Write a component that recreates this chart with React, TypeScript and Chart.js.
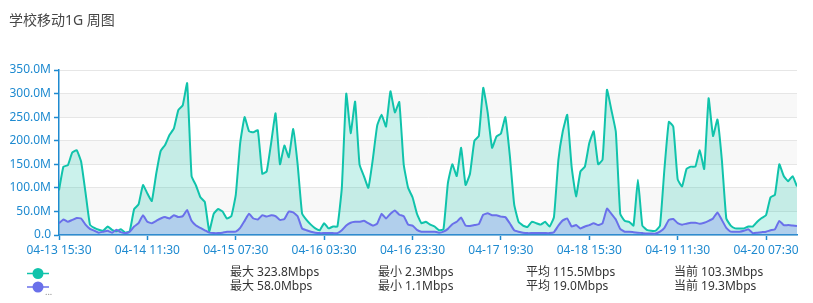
import React, { useEffect, useRef } from 'react';
import { Chart, registerables } from 'chart.js';

Chart.register(...registerables);

// Weekly traffic on the campus mobile 1G uplink, one sample per hour from 04-13 15:30.
const chartTitle = '学校移动1G 周图';

const SAMPLE_STEP_HOURS = 1;
const xTickStepHours = 20;
const xTickLabels = [
  '04-13 15:30', '04-14 11:30', '04-15 07:30', '04-16 03:30', '04-16 23:30',
  '04-17 19:30', '04-18 15:30', '04-19 11:30', '04-20 07:30',
];

// Inbound traffic, Mbps
const inboundMbps = [
  95, 145, 148, 175, 180, 156, 90, 22, 15, 11,
  9, 18, 11, 8, 12, 5, 8, 55, 65, 106,
  88, 72, 130, 178, 191, 212, 226, 265, 275, 322,
  125, 105, 80, 70, 8, 45, 55, 50, 35, 40,
  85, 195, 250, 220, 218, 222, 130, 135, 195, 258,
  150, 190, 165, 225, 150, 46, 32, 22, 14, 10,
  25, 14, 18, 18, 100, 300, 216, 283, 150, 125,
  100, 160, 232, 255, 230, 305, 260, 282, 150, 100,
  80, 45, 25, 28, 22, 18, 10, 12, 110, 150,
  125, 185, 106, 130, 200, 210, 312, 260, 185, 209,
  215, 250, 170, 65, 28, 20, 17, 28, 25, 22,
  28, 18, 38, 159, 220, 255, 145, 82, 135, 145,
  195, 220, 150, 160, 308, 265, 219, 45, 30, 28,
  20, 117, 20, 11, 9, 9, 20, 140, 240, 230,
  118, 103, 140, 145, 145, 180, 140, 290, 210, 245,
  159, 35, 20, 14, 14, 14, 18, 18, 28, 36,
  42, 80, 85, 150, 125, 114, 125, 103,
];

// Outbound traffic, Mbps
const outboundMbps = [
  25, 33, 28, 32, 36, 35, 22, 13, 9, 5,
  7, 9, 5, 11, 6, 4, 7, 18, 25, 42,
  28, 25, 30, 35, 38, 35, 42, 38, 40, 53,
  30, 20, 15, 10, 5, 4, 4, 5, 7, 7,
  7, 15, 30, 45, 35, 33, 42, 39, 42, 40,
  32, 34, 50, 48, 40, 14, 10, 7, 5, 4,
  4, 4, 4, 4, 10, 20, 26, 28, 28, 30,
  25, 20, 24, 45, 35, 45, 52, 43, 40, 22,
  20, 11, 7, 7, 7, 7, 5, 7, 13, 23,
  28, 37, 20, 19, 21, 23, 43, 46, 42, 42,
  39, 38, 25, 10, 7, 5, 4, 4, 4, 4,
  4, 4, 6, 20, 31, 35, 18, 21, 14, 18,
  21, 25, 21, 25, 56, 45, 33, 13, 7, 7,
  6, 5, 4, 3, 3, 3, 7, 15, 32, 34,
  25, 22, 24, 26, 26, 24, 26, 30, 35, 48,
  32, 15, 7, 7, 7, 9, 12, 4, 5, 6,
  7, 10, 12, 30, 21, 21, 20, 19,
];

const yTickStep = 50;
const yMax = 350;

const statNames = ['最大', '最小', '平均', '当前'];
const inboundStats = ['323.8', '2.3', '115.5', '103.3'];
const outboundStats = ['58.0', '1.1', '19.0', '19.3'];

const TEAL = '#10c3ab';
const PURPLE = '#6a70ea';
const AXIS_BLUE = '#1e8ad0';
const FONT_FAMILY = '"Noto Sans", "Noto Sans CJK SC", sans-serif';

const toPoints = (values: number[]) =>
  values.map((y, i) => ({ x: i * SAMPLE_STEP_HOURS, y }));

// Alternating light bands behind the plot
const bandsPlugin = {
  id: 'bands',
  beforeDraw(chart: any) {
    const { ctx, chartArea, scales } = chart;
    const y = scales.y;
    ctx.save();
    for (let v = 0; v < yMax; v += yTickStep) {
      const idx = v / yTickStep;
      if (idx % 2 === 1) {
        const top = y.getPixelForValue(v + yTickStep);
        const bottom = y.getPixelForValue(v);
        ctx.fillStyle = '#f8f8f8';
        ctx.fillRect(chartArea.left, top, chartArea.right - chartArea.left, bottom - top);
      }
    }
    ctx.restore();
  },
};

// Title above the plot and the legend with summary figures below it
const headerFooterPlugin = {
  id: 'headerFooter',
  afterDraw(chart: any) {
    const { ctx } = chart;
    ctx.save();
    ctx.textBaseline = 'middle';
    ctx.textAlign = 'left';

    ctx.font = `14px ${FONT_FAMILY}`;
    ctx.fillStyle = '#464646';
    ctx.fillText(chartTitle, 9, 21);

    const rows = [
      { color: TEAL, y: 273.5, stats: inboundStats },
      { color: PURPLE, y: 287, stats: outboundStats },
    ];
    const statX = [230, 378, 526, 674];
    rows.forEach((row) => {
      ctx.strokeStyle = row.color;
      ctx.lineWidth = 1.5;
      ctx.beginPath();
      ctx.moveTo(27, row.y);
      ctx.lineTo(49, row.y);
      ctx.stroke();
      ctx.fillStyle = row.color;
      ctx.beginPath();
      ctx.arc(38, row.y, 5.5, 0, Math.PI * 2);
      ctx.fill();

      ctx.font = `12px ${FONT_FAMILY}`;
      ctx.fillStyle = '#333333';
      row.stats.forEach((s, i) => {
        ctx.fillText(`${statNames[i]} ${s}Mbps`, statX[i], row.y - 0.5);
      });
    });

    ctx.font = `9px ${FONT_FAMILY}`;
    ctx.fillStyle = '#888888';
    ctx.fillText('...', 45, 292);
    ctx.restore();
  },
};

export default function App() {
  const canvasRef = useRef<HTMLCanvasElement | null>(null);

  useEffect(() => {
    const canvas = canvasRef.current;
    if (!canvas) return;
    Chart.defaults.font.family = FONT_FAMILY;

    const chart = new Chart(canvas, {
      type: 'line',
      data: {
        datasets: [
          {
            label: 'out',
            data: toPoints(outboundMbps),
            borderColor: PURPLE,
            backgroundColor: 'rgba(106,112,234,0.27)',
            fill: 'origin',
            borderWidth: 2,
            pointRadius: 0,
            tension: 0.12,
          },
          {
            label: 'in',
            data: toPoints(inboundMbps),
            borderColor: TEAL,
            backgroundColor: 'rgba(20,194,170,0.22)',
            fill: 'origin',
            borderWidth: 2,
            pointRadius: 0,
            tension: 0.12,
          },
        ],
      },
      options: {
        responsive: false,
        animation: false,
        layout: { padding: { top: 70, right: 16, left: 0, bottom: 0 } },
        plugins: {
          legend: { display: false },
          tooltip: { enabled: false },
          title: { display: false },
        },
        scales: {
          x: {
            type: 'linear',
            min: 0,
            max: (inboundMbps.length - 1) * SAMPLE_STEP_HOURS,
            border: { color: AXIS_BLUE, width: 1.5 },
            grid: {
              drawOnChartArea: false,
              drawTicks: true,
              tickLength: 5,
              tickColor: AXIS_BLUE,
              tickWidth: 1.5,
            },
            ticks: {
              stepSize: xTickStepHours,
              includeBounds: false,
              autoSkip: false,
              maxRotation: 0,
              color: AXIS_BLUE,
              font: { size: 12 },
              padding: 3,
              callback: (_v: any, i: number) => xTickLabels[i] ?? '',
            },
            afterFit: (s: any) => {
              s.height = 68;
            },
          },
          y: {
            min: 0,
            max: yMax,
            border: { color: AXIS_BLUE, width: 1.5 },
            grid: {
              color: '#e6e6e6',
              lineWidth: 1,
              tickColor: AXIS_BLUE,
              tickLength: 5,
              tickWidth: 1.5,
            },
            ticks: {
              stepSize: yTickStep,
              color: AXIS_BLUE,
              font: { size: 12 },
              padding: 3,
              callback: (v: any) => (v === 0 ? '0.0' : `${Number(v).toFixed(1)}M`),
            },
            afterFit: (s: any) => {
              s.width = 59;
            },
          },
        },
      },
      plugins: [bandsPlugin, headerFooterPlugin],
    });

    return () => chart.destroy();
  }, []);

  return (
    <div style={{ position: 'fixed', left: 0, top: 0, width: 813, height: 303, background: '#fff' }}>
      <canvas ref={canvasRef} width={813} height={303} />
    </div>
  );
}
